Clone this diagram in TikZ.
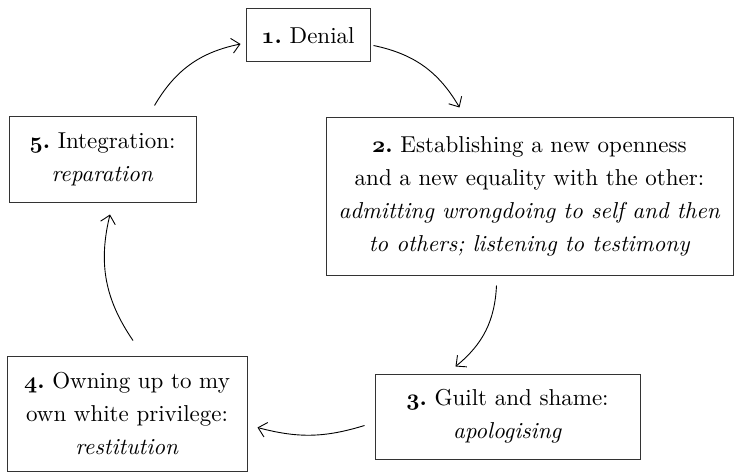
\documentclass[tikz,border=0pt]{standalone}
\usetikzlibrary{arrows.meta}
% text face: the 10pt design of Latin Modern, scaled up, for a sturdier stroke
\DeclareFontFamily{TU}{stg}{}
\DeclareFontShape{TU}{stg}{m}{n}{<-> "[lmroman10-regular]:+tlig;"}{}
\DeclareFontShape{TU}{stg}{m}{it}{<-> "[lmroman10-italic]:+tlig;"}{}
\DeclareFontShape{TU}{stg}{bx}{n}{<-> "[lmroman10-bold]:+tlig;"}{}
\DeclareFontShape{TU}{stg}{b}{n}{<-> ssub * stg/bx/n}{}
% bold old-style figures
\DeclareFontFamily{OML}{stgm}{\skewchar\font=127}
\DeclareFontShape{OML}{stgm}{b}{it}{<-> cmmib10}{}
\newcommand{\stagenum}[1]{{\usefont{OML}{stgm}{b}{it}#1}\textbf{.}}
\begin{document}
\begin{tikzpicture}[x=1pt,y=-1pt,
  stage/.style={draw=black!80, line width=1pt, rectangle, inner sep=0pt,
    align=center, font=\fontencoding{TU}\fontfamily{stg}\fontsize{23}{33}\selectfont\frenchspacing},
  flow/.style={-{Straight Barb[length=8pt,width=15pt]}, line width=0.9pt, bend left=24}]
\useasboundingbox (0,0) rectangle (735,473);

% the five stages
\node[stage, minimum width=124pt, minimum height=53pt] (n1) at (308,35.5)
  {\stagenum{1} Denial};
\node[stage, minimum width=407pt, minimum height=157pt] (n2) at (529.5,196.5)
  {\stagenum{2} Establishing a new openness\\
   and a new equality with the other:\\
   \textit{admitting wrongdoing to self and then}\\
   \textit{to others; listening to testimony}};
\node[stage, minimum width=265pt, minimum height=85pt] (n3) at (507.5,416.5)
  {\stagenum{3} Guilt and shame:\\ \textit{apologising}};
\node[stage, minimum width=240pt, minimum height=115pt] (n4) at (127,413.5)
  {\stagenum{4} Owning up to my\\ own white privilege:\\ \textit{restitution}};
\node[stage, minimum width=187pt, minimum height=85pt] (n5) at (102.5,159.5)
  {\stagenum{5} Integration:\\ \textit{reparation}};

% the cycle of transitions
\draw[flow] ([shift={(3,10)}]n1.east) to ([shift={(-70,-10)}]n2.north);
\draw[flow] ([shift={(-33,10)}]n2.south) to ([shift={(-52,-7)}]n3.north);
\draw[flow, bend left=16] ([shift={(-10,9)}]n3.west) to ([shift={(10,14)}]n4.east);
\draw[flow] ([shift={(6,-15)}]n4.north) to ([shift={(7.5,12)}]n5.south);
\draw[flow] ([shift={(52,-11)}]n5.north) to ([shift={(-5,8.5)}]n1.west);
\end{tikzpicture}
\end{document}
